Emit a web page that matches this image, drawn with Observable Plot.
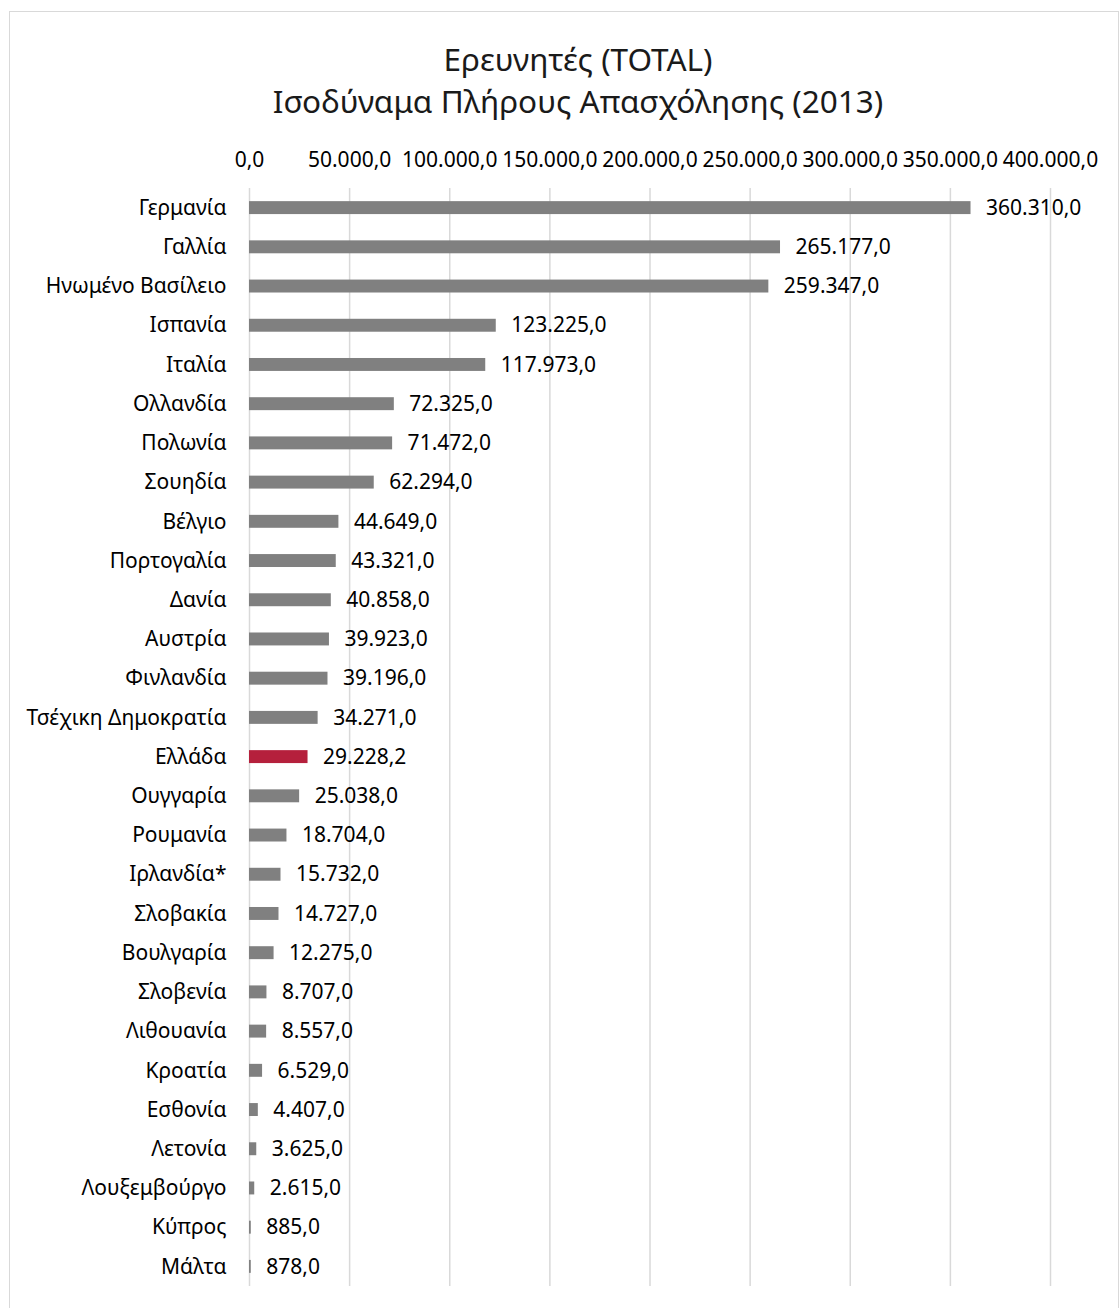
<!DOCTYPE html>
<html><head><meta charset="utf-8">
<script src="https://cdn.jsdelivr.net/npm/d3@7"></script>
<script src="https://cdn.jsdelivr.net/npm/@observablehq/plot@0.6"></script>
<style>
body{margin:0;background:#fff;font-family:"Noto Sans",sans-serif;}
#wrap{position:relative;width:1119px;height:1308px;overflow:hidden;}
#frame{position:absolute;left:9px;top:11px;width:1110px;height:1310px;border:1px solid #d9d9d9;box-sizing:border-box;}
.t{position:absolute;left:78px;width:1000px;text-align:center;font-size:31.5px;color:#1a1a1a;line-height:1;}
#chart{position:absolute;left:0;top:0;}
</style></head>
<body><div id="wrap"><div id="frame"></div><div id="chart"></div>
<div class="t" style="top:43px">Ερευνητές (TOTAL)</div>
<div class="t" style="top:85px">Ισοδύναμα Πλήρους Απασχόλησης (2013)</div>
</div>
<script>
const countries = ["Γερμανία","Γαλλία","Ηνωμένο Βασίλειο","Ισπανία","Ιταλία","Ολλανδία","Πολωνία","Σουηδία","Βέλγιο","Πορτογαλία","Δανία","Αυστρία","Φινλανδία","Τσέχικη Δημοκρατία","Ελλάδα","Ουγγαρία","Ρουμανία","Ιρλανδία*","Σλοβακία","Βουλγαρία","Σλοβενία","Λιθουανία","Κροατία","Εσθονία","Λετονία","Λουξεμβούργο","Κύπρος","Μάλτα"];
const values = [360310,265177,259347,123225,117973,72325,71472,62294,44649,43321,40858,39923,39196,34271,29228.2,25038,18704,15732,14727,12275,8707,8557,6529,4407,3625,2615,885,878];
const xTicks = [0,50000,100000,150000,200000,250000,300000,350000,400000];
const highlight = "Ελλάδα";

const loc = d3.formatLocale({decimal:",", thousands:".", grouping:[3], currency:["",""]});
const fmt = loc.format(",.1f");
const data = countries.map((c,i)=>({country:c, value:values[i]}));

const chart = Plot.plot({
  width:1119, height:1308,
  marginLeft:249, marginRight:69, marginTop:188, marginBottom:22,
  style:{fontFamily:"'Noto Sans', sans-serif", fontSize:"21px", color:"#000"},
  x:{domain:[0,400000], ticks:xTicks, tickFormat:fmt, axis:"top", tickSize:0, tickPadding:22, label:null},
  y:{domain:countries, paddingInner:0.67, paddingOuter:0.335, round:false, tickSize:0, tickPadding:23, label:null},
  marks:[
    Plot.gridX(xTicks,{stroke:"#d9d9d9", strokeOpacity:1, strokeWidth:1.5}),
    Plot.barX(data,{x:"value", y:"country", fill:d=>d.country===highlight?"#b5203c":"#808080"}),
    Plot.text(data,{x:"value", y:"country", text:d=>fmt(d.value), textAnchor:"start", dx:15, fill:"#000", fontSize:21})
  ]
});
document.getElementById("chart").appendChild(chart);
</script></body></html>
